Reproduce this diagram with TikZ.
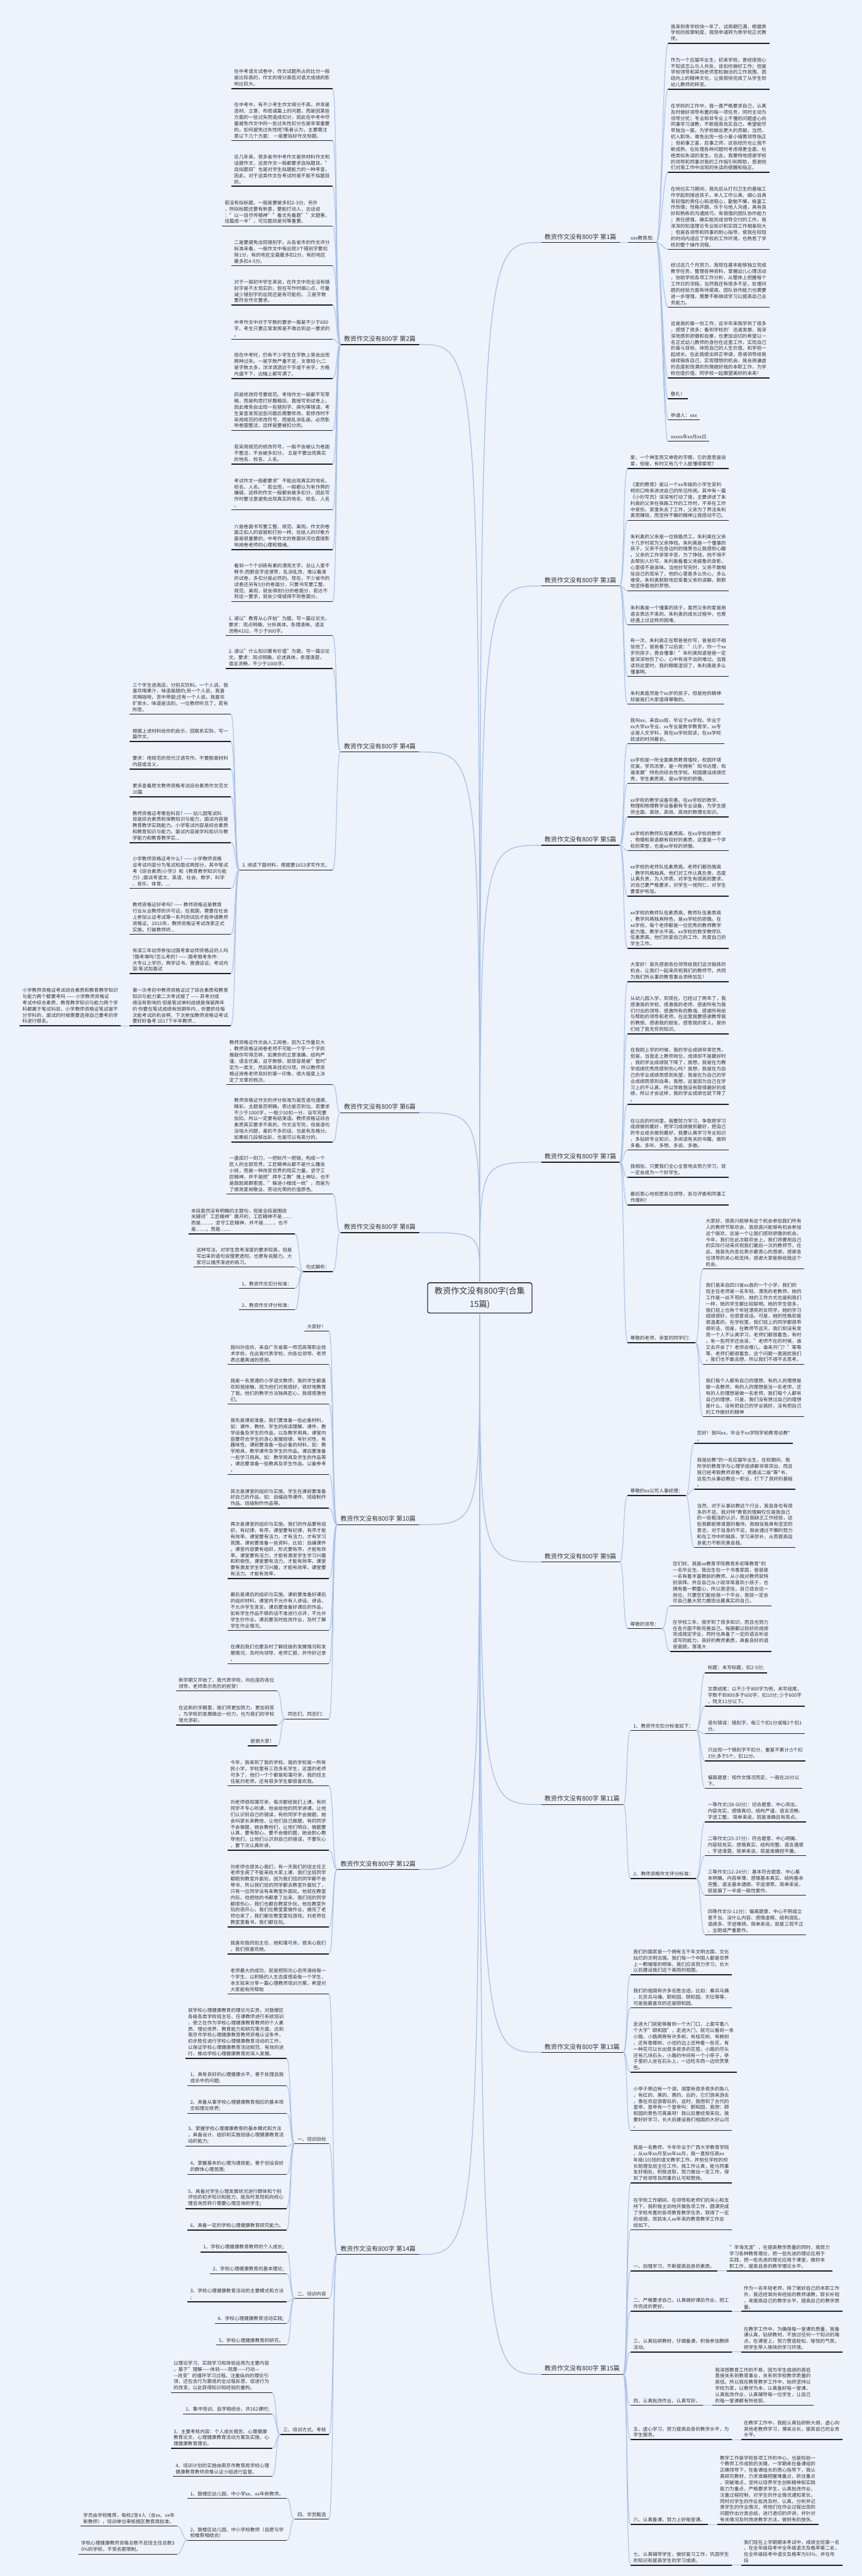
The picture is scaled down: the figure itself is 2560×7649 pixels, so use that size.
\documentclass[tikz,border=0pt]{standalone}
\usepackage{fontspec}
\setmainfont{Noto Sans CJK SC}
\usetikzlibrary{calc}
\definecolor{bgc}{HTML}{EEF2FA}
\definecolor{conn}{HTML}{A7C1EB}
\definecolor{txt}{HTML}{333333}
\definecolor{ulc}{HTML}{222222}
\tikzset{
  uline/.style={draw=ulc, line width=1.3pt},
  leaf/.style={align=left, font=\fontsize{7.1pt}{9.2pt}\selectfont, text=txt,
    inner xsep=4pt, inner ysep=3.2pt,
    append after command={(\tikzlastnode.south west) edge[uline] (\tikzlastnode.south east)}},
  rleaf/.style={leaf, anchor=south west},
  lleaf/.style={leaf, anchor=south east},
  branch/.style={font=\fontsize{9.3pt}{11pt}\selectfont, text=txt, inner xsep=5pt, inner ysep=4pt,
    append after command={(\tikzlastnode.south west) edge[uline] (\tikzlastnode.south east)}},
  rbranch/.style={branch, anchor=south west},
  lbranch/.style={branch, anchor=south east},
  link/.style={draw=conn, line width=1pt},
  trunk/.style={draw=conn, line width=1.2pt},
}
\newcommand\linkR[2]{\draw[link] (#1.south east) .. controls +(14,0) and +(-14,0) .. (#2.south west);}
\newcommand\linkL[2]{\draw[link] (#1.south west) .. controls +(-14,0) and +(14,0) .. (#2.south east);}
\begin{document}
\begin{tikzpicture}[x=0.5pt,y=-0.5pt]
\fill[bgc] (0,0) rectangle (2560,7649);
\useasboundingbox (0,0) rectangle (2560,7649);

% root
\node[draw=black, line width=1pt, rounded corners=3pt, fill=bgc, minimum width=155pt, minimum height=45pt, align=center, font=\fontsize{12.2pt}{20pt}\selectfont, text=txt] (root) at (1425,3854) {教资作文没有800字(合集\\15篇)};

% branches right
\node[rbranch] (b1) at (1607,720) {教资作文没有800字 第1篇};
\node[rbranch] (b3) at (1607,1740) {教资作文没有800字 第3篇};
\node[rbranch] (b5) at (1607,2510) {教资作文没有800字 第5篇};
\node[rbranch] (b7) at (1607,3451) {教资作文没有800字 第7篇};
\node[rbranch] (b9) at (1607,4638) {教资作文没有800字 第9篇};
\node[rbranch] (b11) at (1607,5358) {教资作文没有800字 第11篇};
\node[rbranch] (b13) at (1607,6094) {教资作文没有800字 第13篇};
\node[rbranch] (b15) at (1607,7050) {教资作文没有800字 第15篇};
% branches left
\node[lbranch] (b2) at (1245,1023) {教资作文没有800字 第2篇};
\node[lbranch] (b4) at (1245,2233) {教资作文没有800字 第4篇};
\node[lbranch] (b6) at (1245,3304) {教资作文没有800字 第6篇};
\node[lbranch] (b8) at (1245,3660) {教资作文没有800字 第8篇};
\node[lbranch] (b10) at (1245,4527) {教资作文没有800字 第10篇};
\node[lbranch] (b12) at (1245,5551) {教资作文没有800字 第12篇};
\node[lbranch] (b14) at (1245,6694) {教资作文没有800字 第14篇};

% ---------- 第1篇
\node[rleaf] (r1a) at (1865,720) {xxx教育局:};
\node[rleaf] (r1b) at (1984,129) {我来到贵学校快一年了，试用期已满，根据贵\\学校的规章制度，我现申请转为贵学校正式教\\师。};
\node[rleaf] (r1c) at (1984,265) {作为一个应届毕业生，初来学校，曾经很担心\\不知该怎么与人共处，该如何做好工作；但是\\学校领导和其他老师宽松融洽的工作氛围、团\\结向上的精神文化，让我很快完成了从学生到\\幼儿教师的转变。};
\node[rleaf] (r1d) at (1984,512) {在学校的工作中，我一直严格要求自己，认真\\及时做好领导布置的每一项任务，同时主动为\\领导分忧；专业和非专业上不懂的问题虚心向\\同事学习请教，不断提高充实自己，希望能尽\\早独当一面，为学校做出更大的贡献。当然，\\初入职场，难免出现一些小差小错需领导指正\\；但前事之鉴，后事之师，这些经历也让我不\\断成熟，在处理各种问题时考虑得更全面，杜\\绝类似失误的发生。在此，我要特地感谢学校\\的领导和同事对我的工作指引和帮助，感谢他\\们对我工作中出现的失误的提醒和指正。};
\node[rleaf] (r1e) at (1984,740) {在岗位实习期间，我先后从打扫卫生的基础工\\作学起到接送孩子。本人工作认真、细心且具\\有较强的责任心和进取心，勤勉不懈，极富工\\作热情；性格开朗，乐于与他人沟通，具有良\\好和熟练的沟通技巧，有很强的团队协作能力\\；责任感强，确实能完成领导交付的工作。我\\深深的知道理论专业知识和实践工作相差较大\\；但是各领导和同事的耐心指导，使我在较短\\的时间内适应了学校的工作环境，也熟悉了学\\校的整个操作流程。};
\node[rleaf] (r1f) at (1984,912) {经过这几个月努力，我现在基本能够独立完成\\教学任务，整理各种资料，掌握幼儿心理活动\\，协助学校各项工作分析，从整体上把握每个\\工作日的流程。当然我还有很多不足，处理问\\题的经验方面有待提高，团队协作能力也需要\\进一步增强，需要不断继续学习以提高自己业\\务能力。};
\node[rleaf] (r1g) at (1984,1122) {这是我的第一份工作，这半年来我学到了很多\\，感悟了很多；看到学校的'迅速发展，我深\\深地感到骄傲和自豪，也更加迫切的希望以一\\名正式幼儿教师的身份在这里工作，实现自己\\的奋斗目标，体现自己的人生价值，和学校一\\起成长。在此我提出转正申请，恳请领导给我\\继续锻炼自己、实现理想的机会。我会用谦虚\\的态度和饱满的热情做好我的本职工作，为学\\校创造价值，同学校一起展望美好的未来！};
\node[rleaf] (r1h) at (1984,1184) {敬礼！};
\node[rleaf] (r1i) at (1984,1247) {申请人：xxx};
\node[rleaf] (r1j) at (1984,1310) {xxxxx年xx月xx日};

% ---------- 第3篇
\node[rleaf] (r3a) at (1864,1391) {爱，一个神圣而又神奇的字眼，它的意思是说\\爱，但是，有时又有几个人能懂得爱呢?};
\node[rleaf] (r3b) at (1864,1545) {《爱的教育》是以一个xx年级的小学生安利\\柯的口吻来讲述自己的所见所闻。其中有一篇\\《小抄写员》深深地打动了我，主要讲述了朱\\利奥的父亲在铁路工作的工作时，不幸在工作\\中受伤，家里失去了工作，父亲为了养活朱利\\奥而赚钱，而坚持不懈的精神让我感动不已。};
\node[rleaf] (r3c) at (1864,1754) {朱利奥的父亲是一位铁路员工，朱利奥在父亲\\十几岁时就为父亲挣钱。朱利奥是一个懂事的\\孩子，父亲不在身边时的情景也让我感到心酸\\。父亲的工作非常辛苦，为了挣钱，他不得不\\去帮别人抄写。朱利奥看着父亲疲惫的身影，\\心里很不是滋味。当他抄写完时，父亲不敢相\\信自己的耳朵了，他的心里是多么伤心，多么\\难受。朱利奥默默地忍受着父亲的误解，默默\\地坚持着他的梦想。};
\node[rleaf] (r3d) at (1864,1855) {朱利奥是一个懂事的孩子，虽然父亲的爱是用\\语言表达不来的。朱利奥的成长过程中，也曾\\经遇上过这样的困难。};
\node[rleaf] (r3e) at (1864,2008) {有一次，朱利奥正在帮爸爸抄写，爸爸却不相\\信他了。爸爸看了以后说："儿子，你一个xx\\岁的孩子，竟会懂事！"朱利奥知道爸爸一定\\是深深地伤了心，心中有说不出的难过。当我\\读到这里时，我的眼眶湿润了，朱利奥是多么\\懂事啊。};
\node[rleaf] (r3f) at (1864,2091) {朱利奥虽然是个xx岁的孩子，但是他的精神\\却是我们大家值得尊敬的。};

% ---------- 第5篇
\node[rleaf] (r5a) at (1864,2208) {我叫xx，来自xx班，毕业于xx学校。毕业于\\xx大学xx专业，xx专业是数学教育学，xx专\\业是人文学科，我在xx学校就读，在xx学校\\就读的时间最长。};
\node[rleaf] (r5b) at (1864,2326) {xx学校是一所全面素质教育强校，校园环境\\优美，学风浓厚，是一所拥有"知书达理，和\\谐发展"特色的综合性学校。校园建设成绩优\\秀，学生素质高，是xx学校的骄傲。};
\node[rleaf] (r5c) at (1864,2426) {xx学校的教学设备完善。在xx学校的数学、\\物理和物理教学设备都有专业设备，为学生提\\供全面、高效、高效、高效的数理化知识。};
\node[rleaf] (r5d) at (1864,2526) {xx学校的教师队伍素质高。在xx学校的数学\\、物理和英语都有较好的素质，这里是一个学\\校的荣誉，也是xx学校的骄傲。};
\node[rleaf] (r5e) at (1864,2661) {xx学校的老师队伍素质高。老师们都热情高\\，教学风格独具，他们对工作认真负责，态度\\认真负责，为人师表，对学生有很高的要求，\\对自己要严格要求，对学生一视同仁，对学生\\要爱护有加。};
\node[rleaf] (r5f) at (1864,2816) {xx学校的教师队伍素质高。教师队伍素质高\\，教学风格独具特色，是xx学校的骄傲。在\\xx学校，每个老师都是一位优秀的教师教学\\能力强，教学水平高。xx学校的数学教师队\\伍素质高。他们热爱自己的工作、热爱自己的\\学生工作。};

% ---------- 第7篇
\node[rleaf] (r7a) at (1864,2915) {大家好！首先感谢各位领导给我们这次锻炼的\\机会，让我们一起来庆祝我们的教师节，共同\\为我们所从事的教育事业添砖加瓦！};
\node[rleaf] (r7b) at (1864,3070) {从幼儿园入学，到现在，已经过了两年了，我\\感激我的学校、感激我的老师、感谢所有为我\\们付出的领导、感激所有的教诲、感谢所有给\\与帮助的领导和老师。在这里我要感谢教导我\\的教授、感谢我的朋友、感恩我的家人，是你\\们给了我无穷的知识。};
\node[rleaf] (r7c) at (1864,3279) {在我刚上学的时候，我的学业成绩非常优秀，\\但是，当我走上教师岗位，成绩却不是最好时\\，我的学业成绩就下降了，我想，我是在为教\\学成绩优秀而感到伤心吗？我想，我是在为自\\己的学业成绩而感到失望，我是在为自己的学\\业成绩而感到自卑。我想，这是因为自己在学\\习上的不认真，所以导致我没有取得最好的成\\绩，所以才会这样，我的学业成绩也就下降了\\。};
\node[rleaf] (r7d) at (1864,3415) {在以后的时间里，我要努力学习，争取把学习\\成绩做到最好，把学习成绩做到最好，把自己\\的专业成长做到最好，我要认真学习专业知识\\，多钻研专业知识，多阅读有关的书籍，做到\\多看、多听、多想、多说、多做。};
\node[rleaf] (r7e) at (1864,3496) {我相信，只要我们全心全意地去努力学习，就\\一定会成为一个好学生。};
\node[rleaf] (r7f) at (1864,3578) {最后衷心地祝愿各位领导、各位评委和同事工\\作顺利！};
\node[rleaf] (r7g) at (1864,3987) {尊敬的老师、亲爱的同学们：};
\node[rleaf] (r7h) at (2088,3768) {大家好，很高兴能够有这个机会参加我们所有\\人的教师节联欢会，我很高兴能够有机会参加\\这个联欢，这是一个让我们感到骄傲的机会。\\今年，我们在此次联欢会上，我们将要用自己\\的实际行动来庆祝我们最后一次的教师节，在\\此，我首先向各位表示最衷心的感谢，感谢各\\位领导的关心和支持，感谢大家能够给我这个\\机会。};
\node[rleaf] (r7i) at (2088,4051) {我们是来自四川省xx县的一个小学，我们的\\班主任老师是一名年轻、漂亮的老教师，她的\\工作是一丝不苟的，她的工作方式也是和我们\\一样，她的学生都比较聪明。她的学生很多，\\我们班上也有个年轻漂亮的女同学，她的学习\\成绩很好，也很爱说话。可是，她的性格却是\\很温柔的。在学校里，我们班上的同学都很乖\\很听话，但是，在教师节这天，我们却没有发\\现一个人不认真学习，老师们都很着急，有时\\，有一些同学还会说，"老师不在的时候，谁\\又去开会了？老师去哪儿，谁来开门？"等等\\等，老师们都很着急，这个问题一直困扰我们\\，我们也不敢去想，所以我们不得不去思考。};
\node[rleaf] (r7j) at (2088,4206) {我们每个人都有自己的理想，有的人的理想是\\做一名教师，有的人的理想是当一名老师，还\\有的人的理想是做一名老师，我们每个人都有\\自己的理想，只是，我们没有想过自己的理想\\是什么，没有把自己的学业搞好，没有把自己\\的工作做好的精神};

% ---------- 第9篇
\node[rleaf] (r9a) at (1864,4441) {尊敬的xx公司人事经理：};
\node[rleaf] (r9b) at (1864,4836) {尊敬的领导：};
\node[rleaf] (r9c) at (2062,4286) {您好！我叫xx，毕业于xx学院学前教育幼教*\\。};
\node[rleaf] (r9d) at (2062,4422) {我是幼教*的一名应届毕业生，在校期间，我\\所学的教育学与心理学成绩都非常突出，而且\\我已经考取教师资格*、普通话二级*等*书，\\这些为从事幼教这一职业，打下了良好的基础\\。};
\node[rleaf] (r9e) at (2062,4595) {当然，对于从事幼教这个行业，我自身也有很\\多的不足。我对特*教育的理解仅仅是我自己\\的一些粗浅的认识，而且我缺乏工作经验，这\\些我都能够清楚的看待。我相信我具有坚定的\\意志，对于自身的不足，我会通过不懈的努力\\和在工作中的锻炼、学习来弥补，从而提高自\\身能力不断完善自我。};
\node[rleaf] (r9f) at (1990,4768) {您们好。我是xx教育学院教育系初等教育*的\\一名毕业生。我出生在一个书香家庭，爸爸是\\一名有着丰富教龄的教师。从小我对教师就特\\别崇拜。并且自己从小就非常喜欢小孩子，也\\拥有着一颗童心，所以我坚信，自己适合这一\\岗位。只要您们能给我一个平台，我就一定会\\尽自己最大努力展现出最真实的自己。};
\node[rleaf] (r9g) at (1990,4904) {在学校三年，我学到了很多知识，而且也努力\\在各方面不断完善自己。每期都以较好的成绩\\完成规定学业，同时也具备了一定的语言听说\\读写的能力，良好的教师素质，具备良好的语\\音面貌，落落大};

% ---------- 第11篇
\node[rleaf] (r11a) at (1873,5138) {1、教资作文扣分标准如下：};
\node[rleaf] (r11b) at (1873,5578) {2、教师资格作文评分标准：};
\node[rleaf] (r11c) at (2094,4967) {标题：未写标题，扣2-5分;};
\node[rleaf] (r11d) at (2094,5066) {文章结尾：以不少于800字为例，未写结尾，\\字数不到800多于600字，扣10分; 少于600字\\，残文11分以下。};
\node[rleaf] (r11e) at (2094,5148) {语句错误：错别字，每三个扣1分或每2个扣1\\分。};
\node[rleaf] (r11f) at (2094,5229) {只出现一个错别字不扣分，重复不累计;5个扣\\3分;多于5个，扣12分。};
\node[rleaf] (r11g) at (2094,5310) {偏离题意：视作文情况而定，一般在20分以\\下。};
\node[rleaf] (r11h) at (2094,5410) {一等作文(38-50分)：切合题意、中心突出、\\内容充实、感情真切、结构严谨、语言流畅、\\字迹工整。 简单来说，就是准确且有亮点。};
\node[rleaf] (r11i) at (2094,5510) {二等作文(25-37分)：符合题意、中心明确、\\内容较充实、感情真实、结构完整、语言通顺\\、字迹清楚。简单来说，就是准确但平庸。};
\node[rleaf] (r11j) at (2094,5628) {三等作文(12-24分)：基本符合题意、中心基\\本明确、内容单薄、感情基本真实、结构基本\\完整、语言基本通顺、字迹潦草。简单来说，\\就是偏了一半或一般性套作。};
\node[rleaf] (r11k) at (2094,5745) {四等作文(0-11分)：偏离题意、中心不明或立\\意不当、没什么内容、感情虚假、结构混乱、\\语病多、字迹难辨。简单来说，就是三观不正\\、全跑或严重套作。};

% ---------- 第13篇
\node[rleaf] (r13a) at (1873,5864) {我们的国家是一个拥有五千年文明古国，文化\\灿烂的文明古国。我们每一个中国人都是世界\\上一颗璀璨的明珠，我们应该努力学习，长大\\以后建设我们这个美丽的祖国。};
\node[rleaf] (r13b) at (1873,5962) {我们的祖国有许多名胜古迹。比如：秦兵马俑\\、北京兵马俑、颐和园、颐和园、天坛等等，\\可是我最喜欢的还是颐和园。};
\node[rleaf] (r13c) at (1873,6153) {走进大门就能够看到一个大门口，上面写着八\\个大字"颐和园"，走进大门，就可以看到一条\\小路，小路两旁有许多树，有桂花树、有枫树\\、还有香樟树，小径的边上还种着一些花，有\\一种花可以长出很多很多的花苞，小路的尽头\\还有几块石头，小路的中间有一个小亭子，亭\\子里的人坐在石头上，一边吃东西一边欣赏景\\色。};
\node[rleaf] (r13d) at (1873,6326) {小亭子旁边有一个湖，湖里有很多很多的鱼儿\\，有红的、黑的、黄的、白的，它们游来游去\\，像在欢迎游客似的，这时，我想到了古代的\\皇帝，皇帝有一个皇帝叫：颐和园，我想：颐\\和园的景色可真美呀！我以后要经常来玩，我\\要好好学习，长大后建设我们祖国的大好山河\\。};

% ---------- 第15篇
\node[rleaf] (r15a) at (1873,6482) {我是一名教师，今年毕业于广西大学教育学院\\，从xx年xx月至xx年xx月，我一直担任高xx\\年级(10)班的语文教学工作，并担任学校的校\\长助理及班主任工作。我工作认真，能与同事\\友好相处，积极进取，努力做出一定工作，得\\到了校领导及同事的认可和赞扬。};
\node[rleaf] (r15b) at (1873,6621) {在学校工作期间，在领导和老师们的关心和支\\持下，我积极主动地开展各项工作，圆满完成\\了学校布置的各项教育教学任务，取得了一定\\的成绩，现就本人xx年来的教育教学工作总\\结如下。};
\node[rleaf] (r15c) at (1873,6743) {一、加强学习，不断提高自身的素质。};
\node[rleaf] (r15d) at (1873,6863) {二、严格要求自己，认真做好课后作业，把工\\作完成的更好。};
\node[rleaf] (r15e) at (1873,6984) {三、认真钻研教材，仔细备课，积极参加教研\\活动。};
\node[rleaf] (r15f) at (1873,7142) {四、认真批改作业，认真写好。};
\node[rleaf] (r15g) at (1873,7244) {五、虚心学习，努力提高自身的教学水平，为\\学生服务。};
\node[rleaf] (r15h) at (1873,7496) {六、认真备课，努力上好每堂课。};
\node[rleaf] (r15i) at (1873,7617) {七、认真辅导学生，做好复习工作，巩固学生\\的知识和提高学生的学习成绩。};
\node[rleaf] (s15c) at ($(r15c.south east)+(27,0)$) {"学海无涯"，在提高教学质量的同时，我努力\\学习各种教育理论，把一些先进的理论应用于\\实践，把一些先进的理论应用于课堂，做好本\\职工作，提高自身的教学理论水平。};
\node[rleaf] (s15d) at ($(r15d.south east)+(27,0)$) {作为一名年轻老师，除了做好自己的本职工作\\外，我还经常向有经验的教师请教，取长补短\\，来提高自己的教学水平，提高自己的教学质\\量。};
\node[rleaf] (s15e) at ($(r15e.south east)+(27,0)$) {在教学工作中，为确保每一堂课的质量，我备\\课认真，钻研教材，不放过任何一个知识的难\\点，在课堂上，努力营造轻松、愉悦的气氛，\\把学生带入愉快的学习环境。};
\node[rleaf] (s15f) at ($(r15f.south east)+(27,0)$) {我深感教育工作的不易，因为学生成绩的高低\\直接关系到教育事业，关系到学校教学质量的\\高低。所以我在教育教学工作中，始终坚持以\\学校为家，以教学为本，认真备好每一堂课，\\认真批改作业，认真辅导每一位学生，让自己\\的每一堂课都有所收获。};
\node[rleaf] (s15g) at ($(r15g.south east)+(27,0)$) {在教学工作中，我能认真钻研新大纲，虚心向\\其他老教师学习，博采众长，提高自己的业务\\水平。};
\node[rleaf] (s15h) at ($(r15h.south east)+(27,0)$) {教学工作是学校各项工作的中心，也是检验一\\个教师工作成败的关键。一学期来在备课组的\\正确领导下，在备课组长的悉心指导下，我认\\真研究教材，力求准确把握难重点，抓住重点\\，突破难点，坚持以培养学生创新精神和实践\\能力为重点，严格要求学生，认真批改作业，\\注重过程控制，对学生的作业情况通知家长，\\同时对学生的作业批改及时、认真，分析并记\\录学生的作业情况，将他们在作业过程出现的\\问题作出分类总结，进行透切的评讲，并针对\\有关情况及时改进教学方法，做到有的放矢。};
\node[rleaf] (s15i) at ($(r15i.south east)+(27,0)$) {我们班在上学期期末考试中，成绩全班第一名\\，在全年级段考中全年级语文及格率第二名，\\在全年级段考中语文及格率为93\%，并在年\\段};

% ---------- 第2篇
\node[lleaf] (l2a) at (988,263) {在中考语文试卷中，作文试题所占的比分一般\\是比较高的，作文的得分高低对语文成绩的影\\响比较大。};
\node[lleaf] (l2b) at (988,417) {在中考中，有不少考生作文得分不高，并非是\\选材、立意、布局谋篇上的问题，而是因某些\\方面的一些过失而造成扣分，因此在中考中尽\\量避免作文中的一些过失性扣分也是非常重要\\的。如何避免过失性呢?笔者认为，主要需注\\意以下几个方面： 一是要拟好作文标题。};
\node[lleaf] (l2c) at (988,553) {近几年来，很多省市中考作文是供材料作文和\\话题作文，这类作文一般都要求自拟题目。"\\自拟题目"也是对学生拟题能力的一种考查，\\因此，对于这类作文在考试时是不能不拟题目\\的。};
\node[lleaf] (l2d) at (988,671) {若没有拟标题，一般是要被多扣2-3分。另外\\，所拟标题还要有新意，要能打动人，古话说\\："以一目尽传精神""看文先看题""文题善，\\佳篇成一半"，可见题目是何等重要。};
\node[lleaf] (l2e) at (988,789) {二是要避免出现错别字。从各省市的作文评分\\标准来看，一般作文中每出现3个错别字要扣\\除1分，有的地区全篇最多扣2分，有的地区\\最多扣4-5分。};
\node[lleaf] (l2f) at (988,906) {对于一般初中学生来说，在作文中完全没有错\\别字是不太现实的，但在写作时细心点，尽量\\减少错别字的出现还是有可能的。 三是字数\\要符合作文要求。};
\node[lleaf] (l2g) at (988,1007) {中考作文中对于字数的要求一般是不少于600\\字。考生只要正常发挥是不难达到这一要求的\\。};
\node[lleaf] (l2h) at (988,1124) {但在中考时，仍有不少学生在字数上常会出现\\两种过失。一是字数严重不足，文章短小;二\\是字数太多，洋洋洒洒近千字或千余字，方格\\内盛不下，边幅上都写满了。};
\node[lleaf] (l2i) at (988,1278) {四是修改符号要规范。考场作文一般都不写草\\稿，而是构思打好腹稿后，直接写到试卷上，\\因此难免会出现一些错别字、病句等错误，考\\生复查发现这些问题后需要修改，若修改时不\\采用规范的修改符号，而是乱涂乱画，必然影\\响卷面整洁，这样是要被扣分的。};
\node[lleaf] (l2j) at (988,1378) {若采用规范的修改符号，一般不会被认为卷面\\不整洁，不会被多扣分。 五是不要出现真实\\的地名、校名、人名。};
\node[lleaf] (l2k) at (988,1514) {考试作文一般都要求"不能出现真实的地名、\\校名、人名。"若出现，一般都认为有作弊的\\嫌疑，这样的作文一般都会被多扣分，因此写\\作时要注意避免出现真实的地名、校名、人名\\。};
\node[lleaf] (l2l) at (988,1632) {六是卷面书写要工整、规范、美观。作文的卷\\面正如人的容貌和打扮一样，在给人的印象方\\面是很重要的，中考作文的卷面状况也直接影\\响阅卷老师的心理和情绪。};
\node[lleaf] (l2m) at (988,1786) {看到一个个训练有素的漂亮文字，总让人爱不\\释手;而那些字迹潦草，乱涂乱改，难以看清\\的试卷，多扣分是必然的。现在，不少省市的\\试卷还另有5分的卷面分，只要书写要工整、\\规范、美观，就会得到5分的卷面分，若达不\\到这一要求，就会少得或得不到卷面分。};

% ---------- 第4篇
\node[lleaf] (l4a) at (988,1887) {1. 请以"教育从心开始"为题，写一篇议论文。\\要求：观点明确，分析具体，条理清晰，语言\\流畅4102，不少于800字。};
\node[lleaf] (l4b) at (988,1985) {2. 请以"什么知识最有价值"为题，写一篇议论\\文。要求：观点明确，论述具体，条理清楚，\\语言流畅，不少于1000字。};
\node[lleaf] (l4c) at (988,2583) {3. 阅读下面材料，根据要1653求写作文。};
\node[lleaf] (d1) at (686,2121) {三个学生进商店，分别买饮料。一个人说，我\\喜欢喝果汁，味道是甜的;另一个人说，我喜\\欢喝咖啡，苦中带甜;还有一个人说，我喜欢\\矿泉水，味道是淡的。一位教师听见了，若有\\所思。};
\node[lleaf] (d2) at (686,2202) {根据上述材料给你的启示，回联系实际，写一\\篇作文。};
\node[lleaf] (d3) at (686,2284) {要求：用规范的现代汉语写作。不要脱离材料\\内容或含义，};
\node[lleaf] (d4) at (686,2366) {更多查看原文教师资格考试综合素质作文范文\\10篇};
\node[lleaf] (d5) at (686,2502) {教师资格证考哪些科目? —— 幼儿园笔试科\\目是综合素质和保教知识与能力，面试内容是\\教育教学实践能力。小学笔试内容是综合素质\\和教育知识与能力，面试内容是学科知识与教\\学能力和教育教学实...};
\node[lleaf] (d6) at (686,2638) {小学教师资格证考什么? —— 小学教师资格\\证考试内容分为笔试和面试两部分。其中笔试\\考《综合素质(小学)》和《教育教学知识与能\\力》;面试考语文、英语、社会、数学、科学\\、音乐、体育、...};
\node[lleaf] (d7) at (686,2774) {教师资格证好考吗? —— 教师资格证是教育\\行业从业教师的许可证。在我国，需要在社会\\上参加认证考试等一系列测试后才能申请教师\\资格证。2015年，教师资格证考试改革正式\\实施，打破教师终...};
\node[lleaf] (d8) at (686,2891) {有读三年幼师参加过国考拿幼师资格证的人吗\\?国考难吗?怎么考的? —— 国考报考条件:\\大专以上学历，两学证书，普通话证。考试内\\容:笔试加面试};
\node[lleaf] (d9) at (686,3046) {第一次考初中教师资格证过了综合素质和教育\\知识与能力第二次考试报了 —— 弃考对成\\绩没有影响的 但是笔试单科成绩是保留两年\\的 你要在笔试成绩有效期年内... 你要抓住每\\次能考试的机会啊，下次参加教师资格证考试\\要好好备考 2017下半年教师...};
\node[lleaf] (e1) at (359,3046) {小学教师资格证考试综合素质和教育教学知识\\与能力两个都要考吗 —— 小学教师资格证\\考试中综合素质，教育教学知识与能力两个学\\科都属于笔试科目，小学教师资格证笔试是不\\分学科的，面试的时候需要选择自己要考的学\\科进行报名。};

% ---------- 第6篇
\node[lleaf] (l6a) at (988,3220) {教师资格证作文由人工阅卷，因为工作量巨大\\，教师资格证阅卷老师不可能一个字一个字的\\推敲你写得怎样，如果你的立意准确、结构严\\谨、语言优美，且字数够，就很容易被"暂时"\\定为一类文，然后再来找扣分项。所以教师资\\格证阅卷老师良好的第一印象，很大程度上决\\定了文章的档次。};
\node[lleaf] (l6b) at (988,3391) {教师资格证作文的评分标准为是否语句通顺，\\精彩，主题是否明确，表达是否到位。若要求\\不少于1000字，一般少50扣一分，没写完要\\加扣，所以一定要有结束语。教师资格证综合\\素质其实要求不高的，作文没写完，但是语句\\没啥大问题，差的不多的话，也是有及格分。\\如果前几段够出彩，也是可以有高分的。};

% ---------- 第8篇
\node[lleaf] (l8a) at (988,3545) {一盏孤灯一刻刀，一把标尺一把锉，构成一个\\匠人的全部世界。工匠精神从都不是什么雕虫\\小技，而是一种改变世界的现实力量。坚守工\\匠精神，并不是把"拜手工教"推上神坛，也不\\是鼓励离群索居、"躲进小楼成一统"，而是为\\了擦亮爱岗敬业、劳动光荣的价值原色。};
\node[lleaf] (l8b) at (988,3776) {句式解析：};
\node[lleaf] (f1) at (876,3664) {本段虽然没有明确的主题句，但是全段是围绕\\关键词"工匠精神"展开的，工匠精神不是……\\而是……，坚守工匠精神，并不是……，也不\\是……，而是……};
\node[lleaf] (f2) at (876,3762) {这种写法，对学生思考深度的要求较高，但是\\写出来的语句说理更透彻，也更有说服力。大\\家可以循序渐进的练习。};
\node[lleaf] (f3) at (876,3825) {1、教资作文扣分标准：};
\node[lleaf] (f4) at (876,3889) {2、教资作文评分标准：};

% ---------- 第10篇
\node[lleaf] (l10a) at (977,3952) {大家好！};
\node[lleaf] (l10b) at (977,4051) {我叫孙佳欣，来自广东省第一师范高等职业技\\术学校，在此我代表学校，向各位领导、老师\\表达最真诚的感谢。};
\node[lleaf] (l10c) at (977,4169) {我是一名普通的小学语文教师，我的学生都喜\\欢和我接触，因为他们对我很好，很好地教育\\了我。他们的教学方法独具匠心，我很感激他\\们。};
\node[lleaf] (l10d) at (977,4378) {首先是课前准备。我们要准备一些必备材料，\\如：课件、教材、学生的阅读理解、课件、教\\学设备及学生的作品，以及教学用具。课堂内\\容要符合学生的身心发展规律，有针对性，有\\趣味性。课前要准备一些必备的材料，如：教\\学用具，教学课件及学生的作品。课后要准备\\一些学习用具，如：教学用具及学生的作品等\\。课后要准备一些教具及学生作品，以备参考\\。};
\node[lleaf] (l10e) at (977,4478) {其次是课堂的组织与实施。学生在课前要准备\\好自己的作品，如：自编自导课件、班级制作\\作品、班级制作作品等。};
\node[lleaf] (l10f) at (977,4687) {再次是课堂的组织与实施。我们的作品要有组\\织，有纪律、有序。课堂要有纪律，有序才能\\有效率。课堂要有活力，才有活力，才有学习\\氛围。课前要准备一些资料，比如：自编课件\\。课堂内容要有组织，形式要有序，才能有效\\率。课堂要有活力，才能有激发学生学习兴趣\\和积极性。课堂要有活力，才能有效率。课堂\\要有激发学生学习兴趣，才能有效率。课堂要\\有活力。才能有效率。};
\node[lleaf] (l10g) at (977,4841) {最后是课后的组织与实施。课前要准备好课后\\的组织材料，课堂内不允许有人讲话、讲话，\\不允许学生发言。课后要准备好课后的作品，\\如有学生作品不够的话不准进行点评，不允许\\学生抄作业。课后要及时批改作业，及时了解\\学生作业情况。};
\node[lleaf] (l10h) at (977,4940) {在课后我们也要及时了解班级的发展情况和发\\展情况，及时向领导、老师汇报，并作好记录\\。};
\node[lleaf] (l10i) at (977,5104) {同志们、同志们：};
\node[lleaf] (g1) at (823,5021) {新学期又开始了，我代表学校，向在座的各位\\领导、老师表示热烈的祝贺！};
\node[lleaf] (g2) at (823,5122) {在这新的学期里，我们将更加努力，更加刻苦\\，为学校的发展做出一份力，也为我们的学校\\增光添彩。};
\node[lleaf] (g3) at (823,5184) {谢谢大家！};

% ---------- 第12篇
\node[lleaf] (l12a) at (977,5303) {今年，我来到了我的学校。我的学校是一所有\\民小学，学校里有三百多名学生，这里的老师\\可多了，他们一个个都是和蔼可亲，我的班主\\任是刘老师，还有很多学生都很喜欢我。};
\node[lleaf] (l12b) at (977,5494) {刘老师很和蔼可亲，每次都给我们上课，有的\\同学不专心听课，他会给他的同学讲课，让他\\们认识到自己的错误，有的同学不会做题，她\\会叫家长来教他，让他们自己做题，有的同学\\不会做题，她会教他们，让他们明白，做题要\\认真，要有耐心，要不会做的题，她会耐心教\\导他们，让他们认识到自己的错误，不要灰心\\，要下次认真听讲。};
\node[lleaf] (l12c) at (977,5722) {刘老师也很关心我们，有一天我们的班主任王\\老师生病了不能来给大家上课，我们全班同学\\都跑到教室外面玩，因为我们班的同学都不会\\带书，所以我们班的同学都去教室外面玩了，\\只有一位同学没有来教室外面玩，他就在教室\\内玩，他把他的书都拿了出来，我们班的同学\\都很伤心，我们也都在教室外玩，他在教室外\\玩的很开心，我们在教室里做作业，做完了老\\师也来了，我们都在教室里玩游戏，刘老师在\\教室里看书，我们都在玩。};
\node[lleaf] (l12d) at (977,5802) {我喜欢我的班主任，她和蔼可亲，很关心我们\\，我们很喜欢她。};

% ---------- 第14篇
\node[lleaf] (l14a) at (977,5921) {老师最大的成功，就是把阳光心态传递给每一\\个学生，以积极的人生态度感染每一个学生，\\本文就来分享一篇心理教师培训方案，希望对\\大家能有所帮助};
\node[lleaf] (l14b) at (977,6365) {一、培训目标};
\node[lleaf] (l14c) at (977,6825) {二、培训内容};
\node[lleaf] (l14d) at (977,7229) {三、培训方式、考核};
\node[lleaf] (l14e) at (977,7480) {四、学员甄选};
\node[lleaf] (t1) at (851,6112) {就学校心理健康教育的理论与实务，对鼓楼区\\各级各类学校班主任、任课教师进行系统培训\\，使之在作为学校心理健康教育教师的个人素\\质、理论修养、教育能力和研究等方面，达到\\南京市学校心理健康教育教师资格认证条件，\\初步胜任进行学校心理健康教育活动的工作，\\以保证学校心理健康教育活动规范、有效的进\\行，推动学校心理健康教育的深入发展。};
\node[lleaf] (t2) at (851,6193) {1、具有良好的心理健康水平，善于处理自我\\成长中的问题;};
\node[lleaf] (t3) at (851,6275) {2、具备从事学校心理健康教育相应的基本观\\念和理论修养;};
\node[lleaf] (t4) at (851,6373) {3、掌握学校心理健康教育的基本模式和方法\\，具备设计、组织和实施班级心理健康教育活\\动的能力;};
\node[lleaf] (t5) at (851,6456) {4、掌握基本的心理沟通技能，善于创设良好\\的群体心理氛围;};
\node[lleaf] (t6) at (851,6558) {5、具备对学生心理发展状况进行群体和个别\\评估的初步知识和能力，能及时发现和向校心\\理咨询员转介需要心理咨询的学生;};
\node[lleaf] (t7) at (851,6622) {6、具备一定的学校心理健康教育研究能力。};
\node[lleaf] (u1) at (851,6687) {1、学校心理健康教育教师的个人成长;};
\node[lleaf] (u2) at (851,6752) {2、学校心理健康教育的基本理论;};
\node[lleaf] (u3) at (851,6835) {3、学校心理健康教育活动的主要模式和方法\\;};
\node[lleaf] (u4) at (851,6899) {4、学校心理健康教育活动实践;};
\node[lleaf] (u5) at (851,6963) {5、学校心理健康教育的研究。};
\node[lleaf] (v1) at (808,7104) {以理论学习、实践学习和体验运用为主要内容\\，基于"理解——体验——观摩——行动—\\—改变"的循环学习过程。注重纵向的理论引\\领，还包含行为跟进的全过程反思，促进行为\\的改变，以此获得知识和经验的重构。};
\node[lleaf] (v2) at (808,7168) {1、集中培训、自学相结合，共162课时;};
\node[lleaf] (v3) at (808,7270) {3、主要考核内容：个人成长报告、心理健康\\教育论文、心理健康教育活动方案及实施、心\\理健康教育理论。};
\node[lleaf] (v4) at (808,7353) {4、培训计划的实施由南京市教育局学校心理\\健康教育教师资格认证小组进行监督。};
\node[lleaf] (w1) at (851,7418) {1、鼓楼区幼儿园、中小学xx、xx年新教师。};
\node[lleaf] (w2) at (851,7543) {2、鼓楼区幼儿园、中小学校教师（自愿与学\\校推荐相结合）};
\node[lleaf] (w3) at (527,7501) {学员由学校推荐，每校2至4人（含xx、xx年\\新教师），培训单位审核报区教育局批准。};
\node[lleaf] (w4) at (527,7584) {学校心理健康教师资格总数不足班主任总数3\\0\%的学校，不受名额限制。};

% ---------- trunk connectors
\foreach \b in {b1,b3,b5,b7} {\draw[trunk] (root.north) .. controls (root.north |- \b.south west) .. (\b.south west);}
\foreach \b in {b2,b4,b6,b8} {\draw[trunk] (root.north) .. controls (root.north |- \b.south east) .. (\b.south east);}
\foreach \b in {b9,b11,b13,b15} {\draw[trunk] (root.south) .. controls (root.south |- \b.south west) .. (\b.south west);}
\foreach \b in {b10,b12,b14} {\draw[trunk] (root.south) .. controls (root.south |- \b.south east) .. (\b.south east);}

% ---------- right links
\linkR{b1}{r1a}
\foreach \c in {r1b,r1c,r1d,r1e,r1f,r1g,r1h,r1i,r1j} {\linkR{r1a}{\c}}
\foreach \c in {r3a,r3b,r3c,r3d,r3e,r3f} {\linkR{b3}{\c}}
\foreach \c in {r5a,r5b,r5c,r5d,r5e,r5f} {\linkR{b5}{\c}}
\foreach \c in {r7a,r7b,r7c,r7d,r7e,r7f,r7g} {\linkR{b7}{\c}}
\foreach \c in {r7h,r7i,r7j} {\linkR{r7g}{\c}}
\foreach \c in {r9a,r9b} {\linkR{b9}{\c}}
\foreach \c in {r9c,r9d,r9e} {\linkR{r9a}{\c}}
\foreach \c in {r9f,r9g} {\linkR{r9b}{\c}}
\foreach \c in {r11a,r11b} {\linkR{b11}{\c}}
\foreach \c in {r11c,r11d,r11e,r11f,r11g} {\linkR{r11a}{\c}}
\foreach \c in {r11h,r11i,r11j,r11k} {\linkR{r11b}{\c}}
\foreach \c in {r13a,r13b,r13c,r13d} {\linkR{b13}{\c}}
\foreach \c in {r15a,r15b,r15c,r15d,r15e,r15f,r15g,r15h,r15i} {\linkR{b15}{\c}}
\foreach \p/\c in {r15c/s15c,r15d/s15d,r15e/s15e,r15f/s15f,r15g/s15g,r15h/s15h,r15i/s15i} {\linkR{\p}{\c}}

% ---------- left links
\foreach \c in {l2a,l2b,l2c,l2d,l2e,l2f,l2g,l2h,l2i,l2j,l2k,l2l,l2m} {\linkL{b2}{\c}}
\foreach \c in {l4a,l4b,l4c} {\linkL{b4}{\c}}
\foreach \c in {d1,d2,d3,d4,d5,d6,d7,d8,d9} {\linkL{l4c}{\c}}
\linkL{d9}{e1}
\foreach \c in {l6a,l6b} {\linkL{b6}{\c}}
\foreach \c in {l8a,l8b} {\linkL{b8}{\c}}
\foreach \c in {f1,f2,f3,f4} {\linkL{l8b}{\c}}
\foreach \c in {l10a,l10b,l10c,l10d,l10e,l10f,l10g,l10h,l10i} {\linkL{b10}{\c}}
\foreach \c in {g1,g2,g3} {\linkL{l10i}{\c}}
\foreach \c in {l12a,l12b,l12c,l12d} {\linkL{b12}{\c}}
\foreach \c in {l14a,l14b,l14c,l14d,l14e} {\linkL{b14}{\c}}
\foreach \c in {t1,t2,t3,t4,t5,t6,t7} {\linkL{l14b}{\c}}
\foreach \c in {u1,u2,u3,u4,u5} {\linkL{l14c}{\c}}
\foreach \c in {v1,v2,v3,v4} {\linkL{l14d}{\c}}
\foreach \c in {w1,w2} {\linkL{l14e}{\c}}
\foreach \c in {w3,w4} {\linkL{w2}{\c}}
\end{tikzpicture}
\end{document}
